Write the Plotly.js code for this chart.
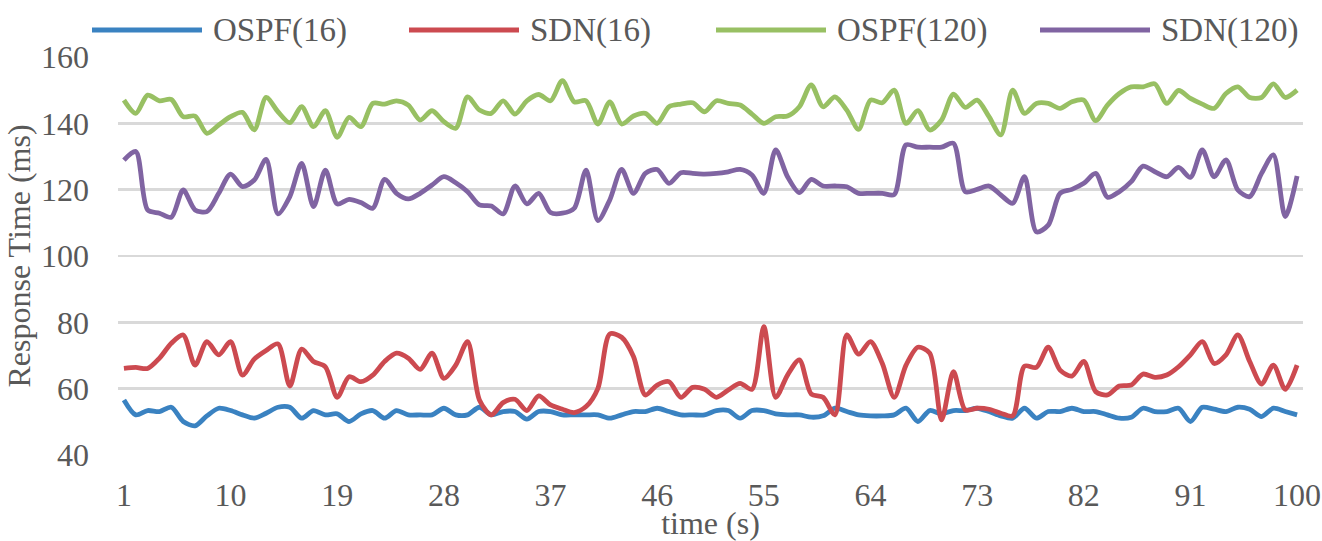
<!DOCTYPE html>
<html>
<head>
<meta charset="utf-8">
<script src="https://cdn.plot.ly/plotly-3.0.1.min.js"></script>
<style>html,body{margin:0;padding:0;background:#fff;}#chart{width:1322px;height:541px;}</style>
</head>
<body>
<div id="chart"></div>
<script>
// ---- data ----
const seriesNames = ["OSPF(16)", "SDN(16)", "OSPF(120)", "SDN(120)"];
const seriesColors = ["#3A82C1", "#CC4A50", "#98C063", "#8064A2"];
const timeTicks = [1, 10, 19, 28, 37, 46, 55, 64, 73, 82, 91, 100];
const yTicks = [40, 60, 80, 100, 120, 140, 160];

const ospf16 = [56.6,52.1,53.4,53.1,54.4,50.1,48.8,51.8,54.1,53.4,
52.1,51.1,52.6,54.4,54.4,51.1,53.4,52.1,52.4,50.1,
52.4,53.4,51.1,53.4,52.1,52.1,52.1,54.1,52.1,52.1,
54.4,52.1,53.1,53.1,50.8,53.1,53.1,52.1,52.1,52.1,
52.1,51.1,52.1,53.1,53.1,54.1,53.1,52.1,52.1,52.1,
53.4,53.4,51.1,53.4,53.4,52.4,52.1,52.1,51.4,51.8,
54.1,53.1,52.1,51.8,51.8,52.1,54.1,50.1,53.4,52.4,
53.4,53.4,54.1,53.1,51.8,51.1,54.1,51.1,53.1,53.1,
54.1,53.1,53.1,52.1,51.1,51.4,54.1,53.1,53.1,54.1,
50.1,54.4,53.8,53.1,54.4,53.8,51.6,54.1,53.1,52.1];

const sdn16 = [66.1,66.4,66.1,69.2,73.7,76.2,67.1,74.2,70.2,74.2,
64.1,68.9,71.5,73.5,60.8,71.9,68.2,66.6,57.4,63.6,
62.1,64.1,68.2,70.7,69.2,65.8,70.7,63.1,67.1,74.2,
56.6,52.1,55.8,56.8,53.4,57.8,55.1,53.8,52.8,54.6,
60.1,76.5,75.5,69.7,58.1,61.1,62.1,57.4,60.4,59.8,
57.4,59.6,61.6,59.8,78.7,57.4,64.1,68.7,58.4,57.4,
52.1,76.2,70.4,74.2,67.6,57.4,67.1,72.5,70.7,50.6,
65.1,53.6,54.1,53.8,52.6,51.8,66.8,66.4,72.5,65.6,
63.8,68.2,59.1,58.1,60.8,61.1,64.4,63.4,64.1,66.6,
70.2,74.2,67.6,70.2,76.2,68.2,61.4,67.1,59.8,67.1];

const ospf120 = [147,143,148.5,146.8,147.2,142,142.2,137,139.5,142,
143.3,138,147.8,143.5,140.2,145,139,143.8,135.8,141.8,
139,146,145.8,146.8,145.5,141,143.8,140.5,138.5,148,
144,143,146.8,142.8,146.8,148.7,146.8,152.9,146.5,146.8,
139.8,146.5,139.8,142.2,143,140,145,145.8,146.2,143.5,
146.8,146,145.5,142.8,140,142,142.2,145,151.6,145,
148,144,138.2,147,146.2,150,140,143.8,138,141,
148.8,144.8,147,142,136.5,150,143,146,146,144.5,
146.5,147,140.8,145.5,149,151,151,151.9,146,149.9,
147.5,145.8,144.5,149,151,147.8,147.8,151.9,147.8,150];

const sdn120 = [128.9,131.5,113.9,112.9,111.7,119.9,113.9,113.4,118.9,124.7,
120.9,122.9,129.1,112.7,117.9,127.9,114.9,125.9,115.7,117.1,
116.1,114.4,123.1,118.9,117.2,118.9,121.4,123.9,122.1,119.4,
115.4,115.1,112.7,121.1,115.7,118.9,113.1,112.9,114.4,125.9,
110.7,116.9,126.1,118.9,124.9,126.1,121.9,125.1,124.9,124.7,
124.9,125.4,126.1,124.4,118.9,132,123.9,119.1,123.1,121.1,
121.1,120.9,118.9,118.9,118.9,118.5,133.5,132.8,132.8,132.8,
134,119.4,120.1,121.1,118.4,115.9,123.9,107.3,109.3,118.9,
120.1,121.9,124.9,117.7,119.4,122.4,127.1,125.4,123.9,126.7,
123.7,132,123.9,129,119.9,117.9,124.9,130.5,111.9,124.1];

const allSeries = [ospf16, sdn16, ospf120, sdn120];
const time = ospf16.map((_, i) => i + 1);

// ---- layout geometry ----
const W = 1322, H = 541;
const M = {l: 118, r: 19, t: 57, b: 86};
const plotW = W - M.l - M.r, plotH = H - M.t - M.b;
const px2x = p => (p - M.l) / plotW;          // paper x from pixel
const py2y = p => (H - M.b - p) / plotH;      // paper y from pixel

const FONT = "Liberation Serif, Times New Roman, serif";
const GREY = "#595959";

const traces = allSeries.map((ys, k) => ({
  type: "scatter", mode: "lines", name: seriesNames[k],
  x: time, y: ys,
  line: {color: seriesColors[k], width: 4.8, shape: "spline", smoothing: 0.8},
  showlegend: false, hoverinfo: "skip"
}));

// custom legend (long line samples like the original)
const legendLineStart = [92, 409, 716, 1040];
const legendLineLen = 110;
const legendY = 30;
const shapes = [], annotations = [];
seriesNames.forEach((n, k) => {
  shapes.push({type: "line", xref: "paper", yref: "paper",
    x0: px2x(legendLineStart[k]), x1: px2x(legendLineStart[k] + legendLineLen),
    y0: py2y(legendY), y1: py2y(legendY),
    line: {color: seriesColors[k], width: 4.8}});
  annotations.push({xref: "paper", yref: "paper", x: px2x(legendLineStart[k] + legendLineLen + 9),
    y: py2y(legendY), xanchor: "left", yanchor: "middle", showarrow: false,
    text: n, font: {family: FONT, size: 33, color: GREY}});
});

const layout = {
  width: W, height: H,
  margin: M,
  paper_bgcolor: "#fff", plot_bgcolor: "#fff",
  showlegend: false,
  font: {family: FONT, color: GREY, size: 32},
  xaxis: {
    range: [0.5, 100.5], tickmode: "array", tickvals: timeTicks, ticktext: timeTicks.map(String),
    showgrid: false, zeroline: false, showline: false, ticks: "",
    ticklabelstandoff: 18,
    tickfont: {family: FONT, size: 32, color: GREY},
    title: {text: "time (s)", standoff: 0, font: {family: FONT, size: 32, color: GREY}},
    automargin: false
  },
  yaxis: {
    range: [40, 160], tickmode: "array", tickvals: yTicks,
    showgrid: true, gridcolor: "#D9D9D9", gridwidth: 2.5,
    zeroline: false, showline: false, ticks: "",
    ticklabelstandoff: 28,
    tickfont: {family: FONT, size: 32, color: GREY},
    title: {text: "Response Time (ms)", standoff: 0, font: {family: FONT, size: 32, color: GREY}},
    automargin: false
  },
  shapes: shapes,
  annotations: annotations
};

Plotly.newPlot("chart", traces, layout, {displayModeBar: false, staticPlot: true});
</script>
</body>
</html>
